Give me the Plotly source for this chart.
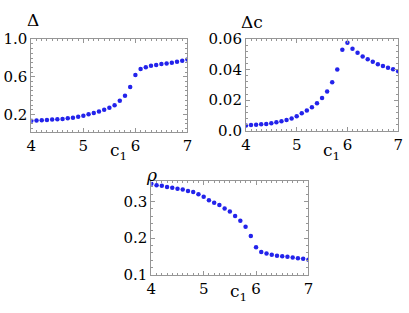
import plotly.graph_objects as go

c1 = [round(4.0 + 0.1 * i, 1) for i in range(31)]

delta = [0.133, 0.137, 0.140, 0.143, 0.147, 0.150, 0.153, 0.160, 0.167, 0.177,
         0.187, 0.203, 0.217, 0.233, 0.250, 0.273, 0.300, 0.347, 0.400, 0.493,
         0.620, 0.683, 0.703, 0.717, 0.727, 0.737, 0.743, 0.750, 0.760, 0.770, 0.783]

delta_c = [0.0034, 0.0036, 0.0038, 0.0042, 0.0044, 0.0048, 0.0055, 0.0061, 0.0069, 0.0080,
           0.0094, 0.0113, 0.0132, 0.0153, 0.0180, 0.0214, 0.0256, 0.0317, 0.0401, 0.0531,
           0.0577, 0.0537, 0.0510, 0.0487, 0.0468, 0.0451, 0.0436, 0.0424, 0.0413, 0.0403, 0.0390]

rho = [0.349, 0.345, 0.343, 0.340, 0.338, 0.335, 0.333, 0.329, 0.326, 0.320,
       0.313, 0.304, 0.297, 0.291, 0.281, 0.273, 0.261, 0.248, 0.231, 0.206,
       0.175, 0.162, 0.158, 0.155, 0.152, 0.151, 0.149, 0.147, 0.145, 0.144, 0.141]

x_ticks = [4, 5, 6, 7]
delta_ticks = [0.2, 0.6, 1.0]
delta_c_ticks = [0.0, 0.02, 0.04, 0.06]
rho_ticks = [0.1, 0.2, 0.3]

W, H = 409, 313
FONT = "DejaVu Serif"
BLUE = "rgb(35,35,235)"
FRAME = "rgb(150,150,150)"
TICK_SIZE = 15

fig = go.Figure()
marker = dict(size=4.5, color=BLUE)
fig.add_trace(go.Scatter(x=c1, y=delta, mode="markers", marker=marker, xaxis="x", yaxis="y"))
fig.add_trace(go.Scatter(x=c1, y=delta_c, mode="markers", marker=marker, xaxis="x2", yaxis="y2"))
fig.add_trace(go.Scatter(x=c1, y=rho, mode="markers", marker=marker, xaxis="x3", yaxis="y3"))


def px_dom(a, b, total):
    return [a / total, b / total]


def ydom(top, bottom):
    return [(H - bottom) / H, (H - top) / H]


def xaxis(domain, anchor):
    return dict(domain=domain, anchor=anchor, range=[4, 7], tickvals=x_ticks,
                ticktext=[str(v) for v in x_ticks], ticks="inside", ticklen=4,
                tickcolor=FRAME, showline=True, linecolor=FRAME, linewidth=1,
                mirror="allticks", showgrid=False, zeroline=False,
                ticklabeloverflow="allow",
                minor=dict(ticks="inside", ticklen=2, dtick=0.1, tick0=4, tickcolor=FRAME),
                tickfont=dict(family=FONT, size=TICK_SIZE, color="black"))


def yaxis(domain, anchor, rng, ticks, fmt, minor_dt):
    return dict(domain=domain, anchor=anchor, range=rng, tickvals=ticks,
                ticktext=[fmt(v) for v in ticks], ticks="inside", ticklen=4,
                tickcolor=FRAME, showline=True, linecolor=FRAME, linewidth=1,
                mirror="allticks", showgrid=False, zeroline=False,
                ticklabeloverflow="allow",
                minor=dict(ticks="inside", ticklen=2, dtick=minor_dt, tick0=0, tickcolor=FRAME),
                tickfont=dict(family=FONT, size=TICK_SIZE, color="black"))


fig.update_layout(
    width=W, height=H, margin=dict(l=0, r=0, t=0, b=0),
    font=dict(family=FONT),
    paper_bgcolor="white", plot_bgcolor="white", showlegend=False,
    xaxis=xaxis(px_dom(27, 187, W), "y"),
    yaxis=yaxis(ydom(32, 130), "x", [0.02, 1.0], delta_ticks, lambda v: f"{v:.1f}", 0.05),
    xaxis2=xaxis(px_dom(247, 403, W), "y2"),
    yaxis2=yaxis(ydom(32, 129), "x2", [0.0, 0.06], delta_c_ticks,
                 lambda v: "0.0" if v == 0 else f"{v:.2f}", 0.004),
    xaxis3=xaxis(px_dom(150, 311, W), "y3"),
    yaxis3=yaxis(ydom(183, 282), "x3", [0.1, 0.355], rho_ticks, lambda v: f"{v:.1f}", 0.02),
)


def ann(text, x, y, size=17):
    fig.add_annotation(text=text, x=x / W, y=(H - y) / H, xref="paper", yref="paper",
                       showarrow=False, xanchor="center", yanchor="middle",
                       font=dict(family=FONT, size=size, color="black"))


ann("Δ", 29, 12)
ann("Δc", 253, 14)
ann("<i>ρ</i>", 150, 176)
c_lbl = "c<sub>1</sub>"
ann(c_lbl, 116, 151)
ann(c_lbl, 335, 151)
ann(c_lbl, 239, 301)

post = """
(function(){
  var de = document.documentElement, b = document.body;
  [de, b].forEach(function(el){
    el.style.margin = '0'; el.style.padding = '0';
    el.style.overflow = 'hidden'; el.style.height = '100%';
  });
  var gd = document.querySelector('.plotly-graph-div');
  var w = window.innerWidth || 409, h = window.innerHeight || 313;
  if (gd && w > 100 && h > 100) { Plotly.relayout(gd, {width: w, height: h}); }
})();
"""

fig.write_html("out.html", config={"displayModeBar": False}, post_script=post)
